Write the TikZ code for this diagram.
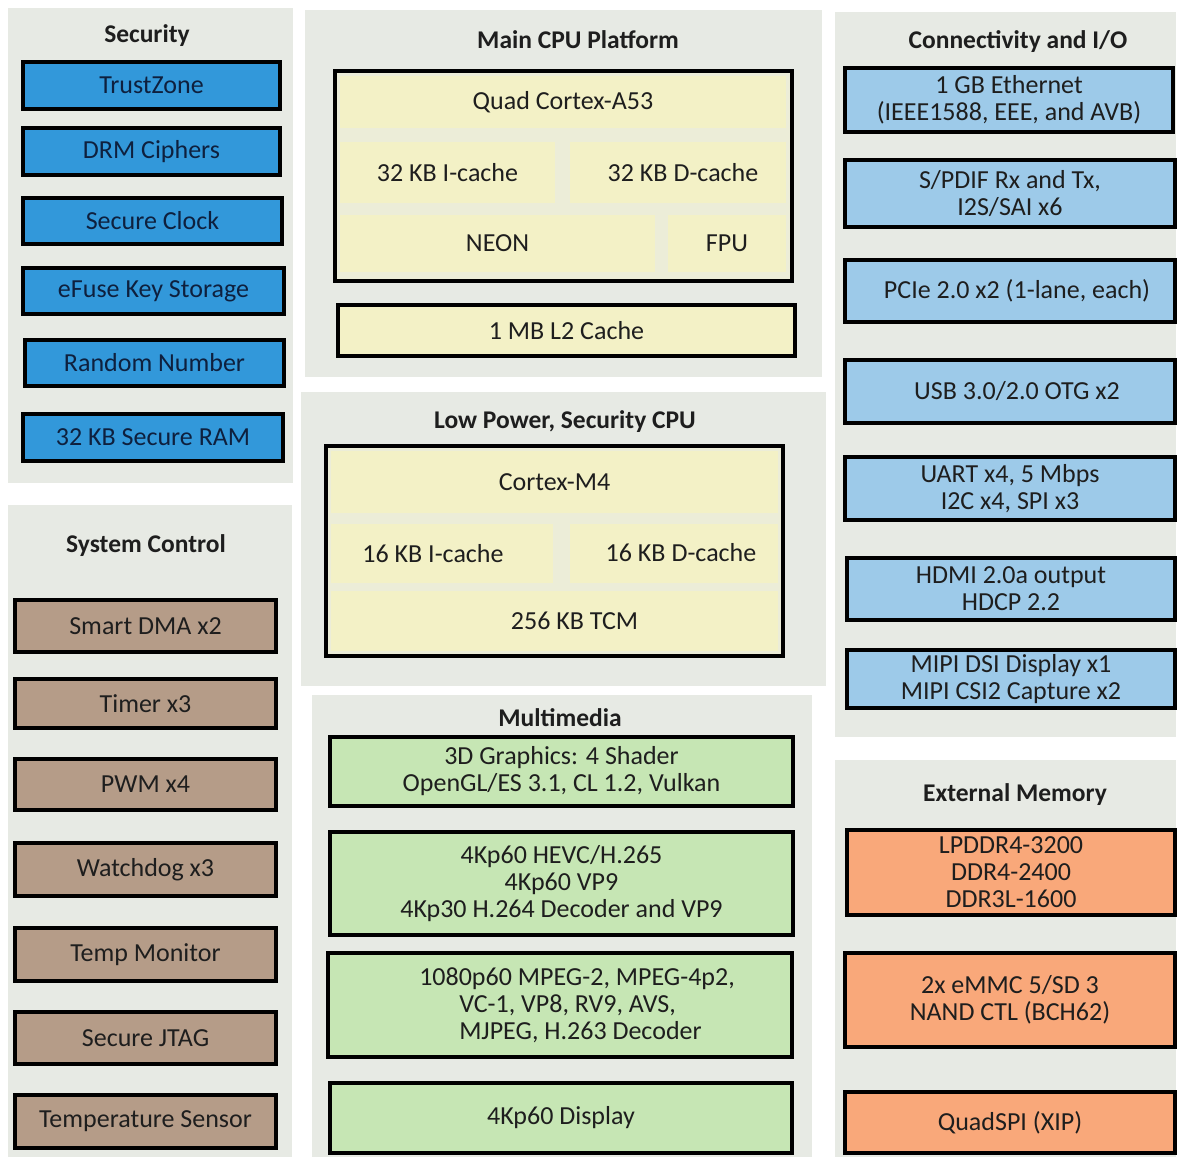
\documentclass[tikz,border=0pt]{standalone}
\usepackage{fontspec}
\setmainfont{Carlito}
\definecolor{panelgray}{RGB}{231,234,228}
\definecolor{secblue}{RGB}{50,152,218}
\definecolor{conblue}{RGB}{157,202,233}
\definecolor{brownbox}{RGB}{181,156,136}
\definecolor{yellowbox}{RGB}{243,241,198}
\definecolor{greenbox}{RGB}{198,230,180}
\definecolor{orangebox}{RGB}{249,168,122}
\definecolor{navytext}{RGB}{14,32,62}
\definecolor{darktext}{RGB}{30,30,30}
\tikzset{
  panel/.style={fill=panelgray, draw=none},
  ptitle/.style={font=\fontsize{25.5}{27}\selectfont\bfseries, text=darktext, inner sep=0pt},
  blk/.style={draw=black, line width=3.5pt, inner sep=0pt, align=center, text=darktext,
              font=\fontsize{26}{27}\selectfont},
  secbox/.style={blk, fill=secblue, text=navytext},
  conbox/.style={blk, fill=conblue},
  sysbox/.style={blk, fill=brownbox},
  membox/.style={blk, fill=orangebox},
  mmbox/.style={blk, fill=greenbox},
  cpubox/.style={blk, fill=panelgray!60!yellowbox},
  sub/.style={fill=yellowbox, draw=none, inner sep=0pt, align=center, text=darktext,
              font=\fontsize{26}{27}\selectfont},
}
\begin{document}
\begin{tikzpicture}[x=1pt,y=-1pt]
\useasboundingbox (0,0) rectangle (1178,1157);
\fill[white] (0,0) rectangle (1178,1157);

% panels
\fill[panel] (8,8) rectangle (293,483);
\fill[panel] (8,505) rectangle (292,1157);
\fill[panel] (305,10) rectangle (822,377);
\fill[panel] (301,392) rectangle (826,686);
\fill[panel] (312,695) rectangle (812,1157);
\fill[panel] (835,12) rectangle (1176,737);
\fill[panel] (835,760) rectangle (1176,1157);

% titles
\node[ptitle] (tsec) at (147,36) {Security};
\node[ptitle] (tsys) at (146,546) {System Control};
\node[ptitle] (tcpu) at (578,40) {Main CPU Platform};
\node[ptitle] (tlp) at (565,422) {Low Power, Security CPU};
\node[ptitle] (tmm) at (560,718) {Multimedia};
\node[ptitle] (tcon) at (1018,42) {Connectivity and I/O};
\node[ptitle] (tmem) at (1015,795) {External Memory};

% Security
\node[secbox, minimum width=257, minimum height=47] (sec1) at (151.5,85.5) {TrustZone};
\node[secbox, minimum width=257, minimum height=47] (sec2) at (151.5,151.5) {DRM Ciphers};
\node[secbox, minimum width=259, minimum height=46] (sec3) at (152.5,221) {Secure Clock};
\node[secbox, minimum width=261, minimum height=46] (sec4) at (153.5,291) {eFuse Key Storage};
\node[secbox, minimum width=259, minimum height=46] (sec5) at (154.5,363) {Random Number};
\node[secbox, minimum width=260, minimum height=47] (sec6) at (153,437.5) {32 KB Secure RAM};

% System control
\node[sysbox, minimum width=261, minimum height=52] (sys1) at (145.5,626) {Smart DMA x2};
\node[sysbox, minimum width=261, minimum height=49] (sys2) at (145.5,703.5) {Timer x3};
\node[sysbox, minimum width=261, minimum height=51] (sys3) at (145.5,784.5) {PWM x4};
\node[sysbox, minimum width=261, minimum height=53] (sys4) at (145.5,869.5) {Watchdog x3};
\node[sysbox, minimum width=261, minimum height=53] (sys5) at (145.5,954.5) {Temp Monitor};
\node[sysbox, minimum width=261, minimum height=52] (sys6) at (145.5,1038) {Secure JTAG};
\node[sysbox, minimum width=261, minimum height=53] (sys7) at (145.5,1121.5) {Temperature Sensor};

% Main CPU
\node[cpubox, minimum width=457, minimum height=210] (quad) at (563.5,176) {};
\node[sub, minimum width=446, minimum height=52] (a53) at (563,102) {Quad Cortex-A53};
\node[sub, minimum width=215, minimum height=61] (ic32) at (447.5,172.5) {32 KB I-cache};
\node[sub, minimum width=216, minimum height=61] (dc32) at (678,172.5) {\hspace*{10pt}32 KB D-cache};
\node[sub, minimum width=315, minimum height=57] (neon) at (497.5,243.5) {NEON};
\node[sub, minimum width=118, minimum height=57] (fpu) at (727,243.5) {FPU};
\node[blk, fill=yellowbox, minimum width=457, minimum height=51] (l2) at (566.5,330.5) {1 MB L2 Cache};

% Low power CPU
\node[cpubox, minimum width=457, minimum height=210] (m4box) at (554.5,551) {};
\node[sub, minimum width=447, minimum height=62] (m4) at (554.5,482) {Cortex-M4};
\node[sub, minimum width=222, minimum height=59] (ic16) at (442,553.5) {\raisebox{-4pt}{16 KB I-cache}\hspace*{18pt}};
\node[sub, minimum width=208, minimum height=59] (dc16) at (674,553.5) {\raisebox{3pt}{\hspace*{14pt}16 KB D-cache}};
\node[sub, minimum width=447, minimum height=60] (tcm) at (554.5,621) {\hspace*{40pt}256 KB TCM};

% Multimedia
\node[mmbox, minimum width=463, minimum height=69] (gfx) at (561.5,771.5)
  {\fontsize{26}{28}\selectfont 3D Graphics: 4 Shader\\OpenGL/ES 3.1, CL 1.2, Vulkan};
\node[mmbox, minimum width=463, minimum height=103] (hevc) at (561.5,883.5)
  {\fontsize{26}{31}\selectfont 4Kp60 HEVC/H.265\\4Kp60 VP9\\4Kp30 H.264 Decoder and VP9};
\node[mmbox, minimum width=464, minimum height=104, align=left] (mpeg) at (560,1005)
  {\fontsize{26}{31}\selectfont \hspace*{34pt}1080p60 MPEG-2, MPEG-4p2,\\\hspace*{74pt}VC-1, VP8, RV9, AVS,\\\hspace*{74pt}MJPEG, H.263 Decoder};
\node[mmbox, minimum width=462, minimum height=70] (disp) at (561,1118) {4Kp60 Display};

% Connectivity
\node[conbox, minimum width=328, minimum height=64] (eth) at (1009,100)
  {\fontsize{26}{24}\selectfont 1 GB Ethernet\\(IEEE1588, EEE, and AVB)};
\node[conbox, minimum width=330, minimum height=67] (spdif) at (1010,193.5)
  {\fontsize{26}{27}\selectfont S/PDIF Rx and Tx,\\I2S/SAI x6};
\node[conbox, minimum width=330, minimum height=62] (pcie) at (1010,291) {\hspace*{14pt}PCIe 2.0 x2 (1-lane, each)};
\node[conbox, minimum width=330, minimum height=63] (usb) at (1010,391.5) {\hspace*{14pt}USB 3.0/2.0 OTG x2};
\node[conbox, minimum width=330, minimum height=63] (uart) at (1010,488.5)
  {\fontsize{26}{27}\selectfont UART x4, 5 Mbps\\I2C x4, SPI x3};
\node[conbox, minimum width=328, minimum height=62] (hdmi) at (1011,589)
  {\fontsize{26}{26}\selectfont HDMI 2.0a output\\HDCP 2.2};
\node[conbox, minimum width=328, minimum height=58] (mipi) at (1011,679)
  {\fontsize{26}{27}\selectfont MIPI DSI Display x1\\MIPI CSI2 Capture x2};

% External memory
\node[membox, minimum width=328, minimum height=85] (lpddr) at (1011,872.5)
  {\fontsize{26}{23}\selectfont LPDDR4-3200\\DDR4-2400\\DDR3L-1600};
\node[membox, minimum width=330, minimum height=94] (emmc) at (1010,1000)
  {\fontsize{26}{28}\selectfont 2x eMMC 5/SD 3\\NAND CTL (BCH62)};
\node[membox, minimum width=330, minimum height=61] (qspi) at (1010,1122.5) {QuadSPI (XIP)};
\end{tikzpicture}
\end{document}
